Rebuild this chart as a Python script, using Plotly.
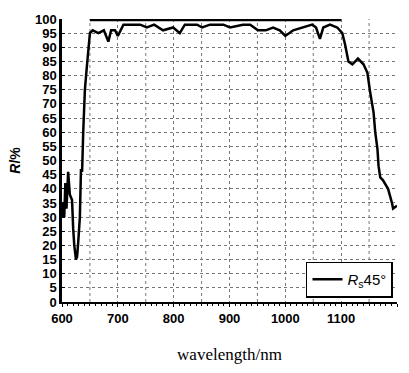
import plotly.graph_objects as go

# Reflectance curve (wavelength nm, R %)
wl = [600, 602, 604, 606, 608, 611, 614, 618, 620, 622, 625, 627, 629, 632, 634,
      636, 638, 641, 644, 647, 650, 655, 665, 675, 683, 688, 695, 700, 710, 722,
      740, 752, 765, 781, 799, 811, 820, 842, 851, 865, 889, 901, 924, 937, 951,
      965, 978, 990, 1000, 1014, 1032, 1048, 1055, 1062, 1068, 1080, 1093, 1102,
      1107, 1113, 1120, 1130, 1140, 1147, 1152, 1158, 1161, 1165, 1167, 1170,
      1175, 1184, 1191, 1193, 1200]
refl = [30, 35, 30, 42, 33, 46, 38, 36, 26, 20, 15, 16, 21, 30, 47,
        46, 60, 75, 82, 88, 95, 96, 95, 96, 92, 96, 96, 94, 98, 98,
        98, 97, 98, 96, 97, 95, 98, 98, 97, 98, 98, 97, 98, 98, 96,
        96, 97, 96, 94, 96, 97, 98, 97, 93, 97, 98, 97, 95,
        91, 85, 84, 86, 84, 81, 74, 67, 60, 54, 48, 44,
        43, 40, 35, 33, 34]

# Upper reference band at 100 %
top_wl = [650, 1100]
top_r = [100, 100]

legend_name = "<i>R</i><sub>s</sub>45°"
x_ticks = [600, 700, 800, 900, 1000, 1100, 1200]
y_ticks = list(range(0, 101, 5))

SANS = "Liberation Sans"

fig = go.Figure()
fig.add_trace(go.Scatter(x=top_wl, y=top_r, mode="lines",
                         line=dict(color="black", width=4.5), showlegend=False,
                         hoverinfo="skip"))
fig.add_trace(go.Scatter(x=wl, y=refl, mode="lines", name=legend_name,
                         line=dict(color="black", width=2.5)))

fig.update_layout(
    width=409, height=373,
    margin=dict(l=62, r=12, t=12, b=61),
    paper_bgcolor="white", plot_bgcolor="white",
    font=dict(family=SANS, color="black"),
    showlegend=True,
    legend=dict(x=0.988, y=0.143, xanchor="right", yanchor="top",
                bordercolor="black", borderwidth=1.5, bgcolor="white",
                font=dict(size=15, family=SANS),
                itemwidth=30, tracegroupgap=0),
    xaxis=dict(range=[600, 1200], tickvals=x_ticks,
               ticktext=[f"<b>{v}</b>" for v in x_ticks],
               showgrid=True, gridcolor="#777", griddash="dot", gridwidth=1,
               showline=True, linecolor="black", linewidth=2,
               ticks="outside", ticklen=3, tickcolor="black",
               minor=dict(dtick=10, ticks="outside", ticklen=2, tickcolor="black",
                          showgrid=False),
               tickfont=dict(size=13, family=SANS),
               title=dict(text="wavelength/nm",
                          font=dict(size=17, family="Liberation Serif"), standoff=24),
               zeroline=False),
    yaxis=dict(range=[0, 100], tickvals=y_ticks,
               ticktext=[f"<b>{v}</b>" for v in y_ticks],
               showgrid=True, gridcolor="#777", griddash="dot", gridwidth=1,
               showline=True, linecolor="black", linewidth=2.5,
               ticks="inside", ticklen=3, tickcolor="black",
               tickfont=dict(size=13, family=SANS),
               title=dict(text="<b><i>R</i>/%</b>", font=dict(size=14, family=SANS),
                          standoff=12),
               zeroline=False),
)

# vertical grid every 50 nm between labelled ticks
for xv in range(650, 1201, 100):
    fig.add_vline(x=xv, line=dict(color="#777", width=1, dash="dot"), layer="below")

fig.write_html("out.html")
